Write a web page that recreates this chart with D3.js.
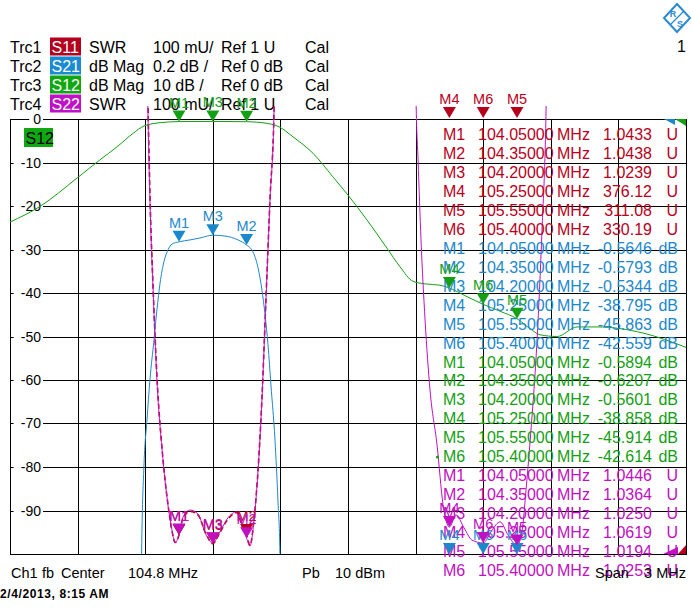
<!DOCTYPE html>
<html>
<head>
<meta charset="utf-8">
<script src="https://cdn.jsdelivr.net/npm/d3@7"></script>
<style>
  body { margin: 0; background: #fff; }
  svg { display: block; font-family: "Liberation Sans", Arial, sans-serif; }
</style>
</head>
<body>
<svg id="chart" width="693" height="611"></svg>
<script>
// Header rows of the analyzer screen
const trcLabels = ["Trc1", "Trc2", "Trc3", "Trc4"];
const trcParams = ["S11", "S21", "S12", "S22"];
const trcFormats = ["SWR", "dB Mag", "dB Mag", "SWR"];
const trcScales = ["100 mU/", "0.2 dB /", "10 dB /", "100 mU/"];
const trcRefs = ["Ref 1 U", "Ref 0 dB", "Ref 0 dB", "Ref 1 U"];

// Sweep: center 104.8 MHz, span 3 MHz
const xTicks = [103.3, 103.6, 103.9, 104.2, 104.5, 104.8, 105.1, 105.4, 105.7, 106.0, 106.3];
const yTicks = [0, -10, -20, -30, -40, -50, -60, -70, -80, -90, -100];
const yTickLabels = ["0", "-10", "-20", "-30", "-40", "-50", "-60", "-70", "-80", "-90"];

// Trace S12 (dB Mag, 10 dB/div)
const s12Freq = [103.3, 103.433, 103.597, 103.699, 103.775, 103.846, 103.895, 103.966, 104.05, 104.2, 104.35,
  104.441, 104.494, 104.556, 104.645, 104.733, 104.8, 104.884, 104.973, 105.031, 105.088, 105.142, 105.208,
  105.25, 105.319, 105.4, 105.475, 105.55, 105.608, 105.652, 105.728, 105.817, 105.905, 106.109, 106.3];
const s12Db = [-23.7, -20.1, -13.6, -9.4, -6.4, -3.3, -1.6, -0.85, -0.5894, -0.5601, -0.6207,
  -1.0, -1.8, -4.1, -7.9, -13.3, -17.5, -23.2, -29.7, -34.0, -37.3, -37.9, -38.2,
  -38.858, -40.6, -42.614, -44.2, -45.914, -48.2, -49.6, -50.0, -47.8, -47.8, -49.2, -52.5];

// Trace S21 (dB Mag, 0.2 dB/div)
const s21Freq = [103.3, 103.868, 103.884, 103.895, 103.908, 103.921, 103.939, 103.952, 103.966, 103.983, 104.001,
  104.019, 104.05, 104.099, 104.143, 104.2, 104.254, 104.312, 104.35, 104.378, 104.401, 104.418, 104.432,
  104.445, 104.458, 104.476, 104.489, 104.498, 104.516, 106.3];
const s21Db = [-40, -5, -2.0, -1.582, -1.384, -1.2, -1.016, -0.878, -0.754, -0.657, -0.602,
  -0.575, -0.5646, -0.556, -0.547, -0.5344, -0.538, -0.556, -0.5793, -0.611, -0.685, -0.786, -0.901,
  -1.039, -1.223, -1.476, -1.752, -2.0, -5, -52];

// Trace S11 (SWR, 100 mU/div)
const s11Freq = [103.3, 103.899, 103.913, 103.922, 103.936, 103.953, 103.976, 104.002, 104.02, 104.033, 104.05,
  104.068, 104.099, 104.134, 104.17, 104.2, 104.232, 104.267, 104.307, 104.334, 104.35, 104.365, 104.383,
  104.401, 104.418, 104.436, 104.454, 104.472, 104.485, 106.3];
const s11Swr = [5, 2.5, 2.02, 1.81, 1.6, 1.4, 1.235, 1.11, 1.05, 1.027, 1.0433,
  1.083, 1.098, 1.09, 1.046, 1.0239, 1.05, 1.08, 1.095, 1.058, 1.0438, 1.02, 1.08,
  1.195, 1.357, 1.588, 1.818, 2.025, 2.5, 5];

// Trace S22 (SWR, 100 mU/div)
const s22Freq = [103.3, 103.899, 103.912, 103.921, 103.935, 103.952, 103.975, 104.001, 104.019, 104.032, 104.05,
  104.068, 104.099, 104.134, 104.17, 104.2, 104.232, 104.267, 104.307, 104.334, 104.35, 104.365, 104.383,
  104.401, 104.418, 104.436, 104.454, 104.472, 104.485, 104.587, 105.075, 105.102, 105.111, 105.124, 105.142,
  105.164, 105.195, 105.222, 105.25, 105.279, 105.315, 105.35, 105.4, 105.439, 105.475, 105.51, 105.55,
  105.573, 105.59, 105.612, 105.639, 105.661, 105.679, 105.692, 106.3];
const s22Swr = [5, 2.5, 2.021, 1.814, 1.607, 1.4, 1.239, 1.113, 1.055, 1.025, 1.0446,
  1.085, 1.101, 1.092, 1.044, 1.025, 1.051, 1.083, 1.097, 1.06, 1.0364, 1.018, 1.078,
  1.193, 1.354, 1.584, 1.814, 2.021, 2.5, 5, 5, 2.044, 1.906, 1.722, 1.538,
  1.377, 1.251, 1.113, 1.0619, 1.09, 1.06, 1.032, 1.0253, 1.055, 1.074, 1.044, 1.0194,
  1.055, 1.147, 1.285, 1.492, 1.745, 2.021, 2.5, 5];

// Markers M1..M6 (same stimulus on every trace)
const markerNames = ["M1", "M2", "M3", "M4", "M5", "M6"];
const markerFreq = [104.05, 104.35, 104.2, 105.25, 105.55, 105.4];
const s11Mk = [1.0433, 1.0438, 1.0239, 376.12, 311.08, 330.19];
const s21Mk = [-0.5646, -0.5793, -0.5344, -38.795, -45.863, -42.559];
const s12Mk = [-0.5894, -0.6207, -0.5601, -38.858, -45.914, -42.614];
const s22Mk = [1.0446, 1.0364, 1.0250, 1.0619, 1.0194, 1.0253];

// colours
const col = { S11: "#b8001c", S21: "#1c88cc", S12: "#14a014", S22: "#c010c0" };
const boxCol = { S11: "#b4001e", S21: "#1a8ad2", S12: "#10a810", S22: "#c010c8" };

const L = 10, R = 686, T = 119, B = 554;
const svg = d3.select("#chart");

// scales
const x = d3.scaleLinear().domain([103.3, 106.3]).range([L, R]);
const xGrid = x.copy().interpolate(d3.interpolateRound);
const yDb = d3.scaleLinear().domain([-100, 0]).range([B, T]);
const yGrid = yDb.copy().interpolate(d3.interpolateRound);
const yFine = d3.scaleLinear().domain([-2, 0]).range([B, T]);
const ySwr = d3.scaleLinear().domain([1, 2]).range([B, T]);

// clip areas
const defs = svg.append("defs");
defs.append("clipPath").attr("id", "clipMain")
  .append("rect").attr("x", L).attr("y", T).attr("width", R - L).attr("height", B - T);
defs.append("clipPath").attr("id", "clipSwr")
  .append("rect").attr("x", L).attr("y", T - 13).attr("width", R - L).attr("height", B - T + 13);

// ---- header ----
const hdr = svg.append("g").attr("font-size", 16).attr("fill", "#000");
trcLabels.forEach((t, i) => {
  const yb = 52.5 + i * 19;
  const p = trcParams[i];
  hdr.append("text").attr("x", 10).attr("y", yb).text(t);
  hdr.append("rect").attr("x", 50).attr("y", yb - 15).attr("width", 31).attr("height", 18)
    .attr("fill", boxCol[p]);
  hdr.append("text").attr("x", 51.5).attr("y", yb).attr("fill", "#fff").text(p);
  hdr.append("text").attr("x", 89).attr("y", yb).text(trcFormats[i]);
  hdr.append("text").attr("x", 153).attr("y", yb).text(trcScales[i]);
  hdr.append("text").attr("x", 221).attr("y", yb).text(trcRefs[i]);
  hdr.append("text").attr("x", 305).attr("y", yb).text("Cal");
});

// R&S logo and window number
const logo = svg.append("g").attr("transform", "translate(677,18)");
logo.append("path").attr("d", "M0,-14L13,0L0,14L-13,0Z")
  .attr("fill", "#fff").attr("stroke", "#2a8ad0").attr("stroke-width", 2);
logo.append("text").attr("x", -4).attr("y", -1).attr("font-size", 9).attr("font-weight", "bold")
  .attr("fill", "#2a8ad0").attr("text-anchor", "middle").text("R");
logo.append("text").attr("x", 3).attr("y", 9).attr("font-size", 9).attr("font-weight", "bold")
  .attr("fill", "#2a8ad0").attr("text-anchor", "middle").text("S");
logo.append("path").attr("d", "M-7,7L7,-7").attr("stroke", "#2a8ad0").attr("stroke-width", 1.2);
svg.append("text").attr("x", 677).attr("y", 52).attr("font-size", 16).text("1");

// ---- grid ----
svg.append("g")
  .attr("transform", `translate(0,${B})`)
  .call(d3.axisBottom(xGrid).tickValues(xTicks).tickSize(-(B - T)).tickSizeOuter(0).tickFormat(""))
  .call(g => g.selectAll("line").attr("stroke", "#000"));
svg.append("g")
  .attr("transform", `translate(${L},0)`)
  .call(d3.axisLeft(yGrid).tickValues(yTicks).tickSize(-(R - L)).tickSizeOuter(0).tickFormat(""))
  .call(g => g.selectAll("line").attr("stroke", "#000"));
svg.append("rect").attr("x", L + 0.5).attr("y", T + 0.5).attr("width", R - L).attr("height", B - T)
  .attr("fill", "none").attr("stroke", "#000");

// y labels (S12 scale) on white patches
const yl = svg.append("g").attr("font-size", 14);
yTickLabels.forEach((t, i) => {
  const yy = yGrid(yTicks[i]);
  const w = t.length * 7.8 + 4;
  yl.append("rect").attr("x", 41 - w).attr("y", yy - 6).attr("width", w + 2).attr("height", 12).attr("fill", "#fff");
  yl.append("text").attr("x", 41).attr("y", yy + 5).attr("text-anchor", "end").text(t);
});

// S12 trace tag
svg.append("rect").attr("x", 24).attr("y", 128).attr("width", 29).attr("height", 19).attr("fill", boxCol.S12);
svg.append("text").attr("x", 25.5).attr("y", 143.5).attr("font-size", 16).text("S12");

// ---- traces ----
const mkLine = (fs, vs, ys) => d3.line().curve(d3.curveMonotoneX)
  .x((d, i) => x(fs[i])).y((d, i) => ys(vs[i]))(fs);

svg.append("path").attr("clip-path", "url(#clipSwr)")
  .attr("d", mkLine(s11Freq, s11Swr, ySwr)).attr("fill", "none").attr("stroke", col.S11)
  .attr("stroke-width", 1.6).attr("stroke-dasharray", "5,3");
svg.append("path").attr("clip-path", "url(#clipMain)")
  .attr("d", mkLine(s21Freq, s21Db, yFine)).attr("fill", "none").attr("stroke", col.S21).attr("stroke-width", 1);
svg.append("path").attr("clip-path", "url(#clipMain)")
  .attr("d", mkLine(s12Freq, s12Db, yDb)).attr("fill", "none").attr("stroke", col.S12).attr("stroke-width", 1);
svg.append("path").attr("clip-path", "url(#clipSwr)")
  .attr("d", mkLine(s22Freq, s22Swr, ySwr)).attr("fill", "none").attr("stroke", col.S22).attr("stroke-width", 1);

// ---- marker table ----
const fmtVal = v => {
  const intDigits = String(Math.floor(Math.abs(v))).length;
  return v.toFixed(5 - intDigits);
};
const tableTraces = [
  { key: "S11", vals: s11Mk, unit: "U" },
  { key: "S21", vals: s21Mk, unit: "dB" },
  { key: "S12", vals: s12Mk, unit: "dB" },
  { key: "S22", vals: s22Mk, unit: "U" }
];
const tbl = svg.append("g").attr("font-size", 16);
tableTraces.forEach((tr, ti) => {
  tr.vals.forEach((v, mi) => {
    const yb = 140 + (ti * 6 + mi) * 18.96;
    const c = col[tr.key];
    tbl.append("text").attr("x", 443).attr("y", yb).attr("fill", c).text(markerNames[mi]);
    tbl.append("text").attr("x", 478).attr("y", yb).attr("fill", c).text(markerFreq[mi].toFixed(5));
    tbl.append("text").attr("x", 557).attr("y", yb).attr("fill", c).text("MHz");
    tbl.append("text").attr("x", 652).attr("y", yb).attr("fill", c).attr("text-anchor", "end").text(fmtVal(v));
    tbl.append("text").attr("x", 678).attr("y", yb).attr("fill", c).attr("text-anchor", "end").text(tr.unit);
  });
});
// active marker dot
svg.append("circle").attr("cx", 437.5).attr("cy", 457).attr("r", 1.6).attr("fill", col.S12);

// ---- markers ----
const mk = svg.append("g").attr("font-size", 14.5).attr("text-anchor", "middle");
function drawMarkers(vals, ys, color, lo, hi) {
  vals.forEach((v, i) => {
    const mx = x(markerFreq[i]);
    const tip = Math.max(lo, Math.min(hi, ys(v)));
    mk.append("path").attr("d", `M${mx - 6.5},${tip - 11}L${mx + 6.5},${tip - 11}L${mx},${tip}Z`).attr("fill", color);
    mk.append("text").attr("x", mx).attr("y", tip - 14).attr("fill", color).text(markerNames[i]);
  });
}
drawMarkers(s11Mk, ySwr, col.S11, T - 1, B);
drawMarkers(s21Mk, yFine, col.S21, T, B);
drawMarkers(s12Mk, yDb, col.S12, T, B);
drawMarkers(s22Mk, ySwr, col.S22, T, B);

// out-of-range indicators in the corners
svg.append("path").attr("d", `M664,${T}L675,${T}L675,${T + 6}Z`).attr("fill", col.S21);
svg.append("path").attr("d", `M675,${T}L686,${T}L686,${T + 7}Z`).attr("fill", col.S12);
svg.append("path").attr("d", `M663,${B}L678,${B - 7}L678,${B}Z`).attr("fill", col.S22);
svg.append("path").attr("d", `M678,${B}L686,${B - 9}L686,${B}Z`).attr("fill", col.S11);

// ---- footer ----
const ft = svg.append("g").attr("font-size", 14.5);
ft.append("text").attr("x", 11).attr("y", 578).text("Ch1");
ft.append("text").attr("x", 42).attr("y", 578).text("fb");
ft.append("text").attr("x", 61).attr("y", 578).text("Center");
ft.append("text").attr("x", 128).attr("y", 578).text("104.8 MHz");
ft.append("text").attr("x", 302).attr("y", 578).text("Pb");
ft.append("text").attr("x", 335).attr("y", 578).text("10 dBm");
ft.append("text").attr("x", 595).attr("y", 578).text("Span");
ft.append("text").attr("x", 686).attr("y", 578).attr("text-anchor", "end").text("3 MHz");
svg.append("text").attr("x", 0).attr("y", 598).attr("font-size", 12).attr("font-weight", "bold")
  .attr("letter-spacing", 0.6).text("2/4/2013, 8:15 AM");
</script>
</body>
</html>
